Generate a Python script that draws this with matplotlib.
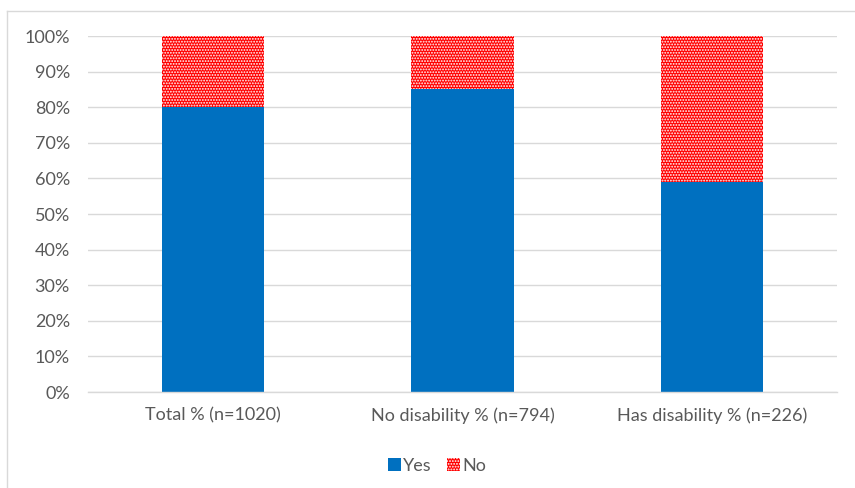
import matplotlib
matplotlib.use("Agg")
import matplotlib.pyplot as plt
from matplotlib.lines import Line2D
from matplotlib.ticker import MultipleLocator, PercentFormatter

categories = ["Total % (n=1020)", "No disability % (n=794)", "Has disability % (n=226)"]
yes_pct = [80, 85, 59]
no_pct = [20, 15, 41]
series_names = ["Yes", "No"]

BLUE = "#0070c0"
RED = "#ff0000"
GRID = "#d9d9d9"
TEXT = "#595959"

plt.rcParams["font.family"] = ["Lato", "DejaVu Sans"]
plt.rcParams["hatch.linewidth"] = 0.9

fig = plt.figure(figsize=(8.55, 4.88), dpi=100)
ax = fig.add_axes([0.1029, 0.1967, 0.876, 0.7295])

x = range(len(categories))
width = 0.41
ax.bar(x, yes_pct, width, color=BLUE, label=series_names[0], zorder=2)
ax.bar(x, no_pct, width, bottom=yes_pct, facecolor=RED, edgecolor="white",
       linewidth=0, hatch="......", label=series_names[1], zorder=2)

ax.set_xlim(-0.5, len(categories) - 0.5)
ax.set_ylim(0, 100)
ax.yaxis.set_major_locator(MultipleLocator(10))
ax.yaxis.set_major_formatter(PercentFormatter(decimals=0))
ax.set_xticks(list(x))
ax.set_xticklabels(categories)

ax.grid(axis="y", color=GRID, linewidth=1.0, zorder=0)
ax.set_axisbelow(True)
for side in ("top", "right", "left"):
    ax.spines[side].set_visible(False)
ax.spines["bottom"].set_color(GRID)
ax.spines["bottom"].set_linewidth(1.0)
ax.tick_params(axis="both", length=0, colors=TEXT, labelsize=13)
ax.tick_params(axis="y", pad=13)
ax.tick_params(axis="x", pad=11)

fig.legend(loc="center", bbox_to_anchor=(0.511, 0.045), ncol=2, frameon=False,
           fontsize=13, labelcolor=TEXT, handlelength=0.72, handleheight=0.72,
           handletextpad=0.15, columnspacing=0.8)

# light frame around the chart area
fig.add_artist(Line2D([7 / 855, 1], [1 - 11 / 488, 1 - 11 / 488],
                      transform=fig.transFigure, color=GRID, linewidth=1.0))
fig.add_artist(Line2D([7 / 855, 7 / 855], [0, 1 - 11 / 488],
                      transform=fig.transFigure, color=GRID, linewidth=1.0))

fig.savefig("out.png", dpi=100)
